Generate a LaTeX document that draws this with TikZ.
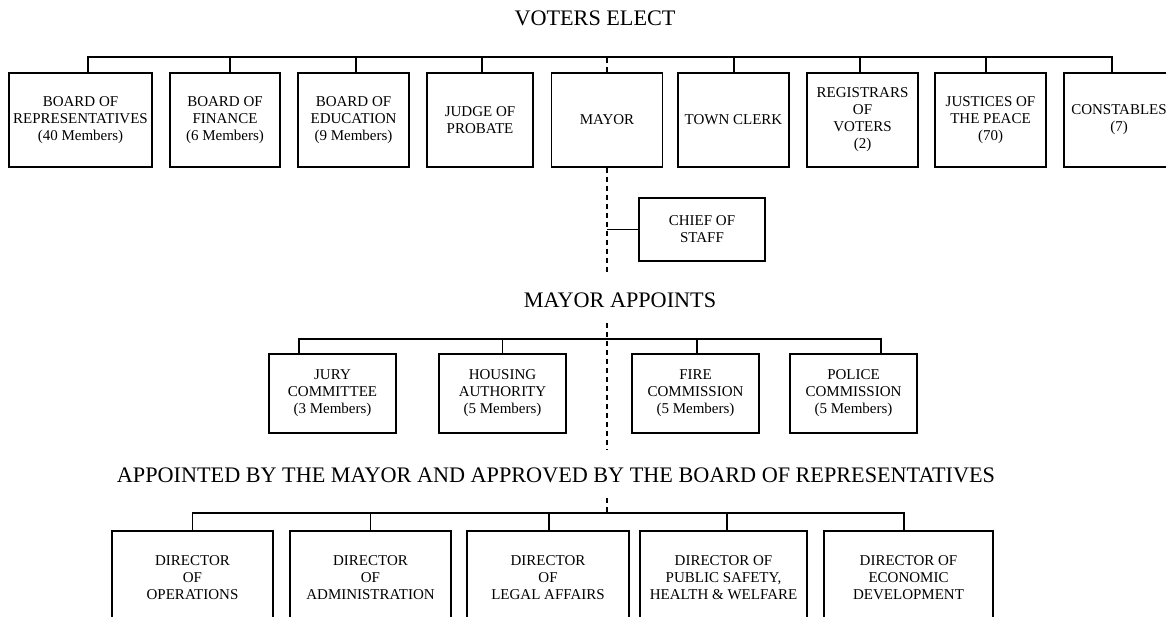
\documentclass[tikz,border=0pt]{standalone}
\usepackage{fontspec}
\setmainfont{Liberation Serif}

\tikzset{
    office/.style={draw, line width=1.2pt, inner sep=2pt, align=center,
        font=\fontsize{15}{17}\selectfont},
    electbox/.style={office, minimum width=#1, minimum height=94},
    electbox/.default=111,
    apptbox/.style={office, minimum width=127, minimum height=79},
    dirbox/.style={office, minimum width=#1, minimum height=94},
    dirbox/.default=161,
    heading/.style={font=\fontsize{22.2}{26}\selectfont},
    link/.style={line width=1.2pt},
    mayorline/.style={line width=1.2pt, dash pattern=on 5pt off 4pt}
}

\begin{document}
\begin{tikzpicture}[x=1pt, y=-1pt]
            \useasboundingbox (0,0) rectangle (1166,616);
            \node[heading] (voters) at (595,18) {VOTERS ELECT};
            \node[heading] (appoints) at (620,300) {MAYOR APPOINTS};
            \node[heading] (approved) at (556,475) {APPOINTED BY THE MAYOR AND APPROVED BY THE BOARD OF REPRESENTATIVES};

            \node[electbox=143] (rep) at (80.5,120) {BOARD OF\\REPRESENTATIVES\\(40 Members)};
            \node[electbox=110] (fin) at (225,120) {BOARD OF\\FINANCE\\(6 Members)};
            \node[electbox] (edu) at (353.5,120) {BOARD OF\\EDUCATION\\(9 Members)};
            \node[electbox=106] (jud) at (480,120) {JUDGE OF\\PROBATE};
            \node[electbox] (may) at (607,120) {MAYOR};
            \node[electbox] (clk) at (733.5,120) {TOWN CLERK};
            \node[electbox] (reg) at (862.5,120) {REGISTRARS\\OF\\VOTERS\\(2)};
            \node[electbox] (jus) at (990.5,120) {JUSTICES OF\\THE PEACE\\(70)};
            \node[electbox=110] (con) at (1119,120) {CONSTABLES\\(7)};

            \node[office, minimum width=126, minimum height=63] (chief) at (702,229.5) {CHIEF OF\\STAFF};

            \node[apptbox] (jury) at (332.5,393.5) {JURY\\COMMITTEE\\(3 Members)};
            \node[apptbox] (hous) at (502.5,393.5) {HOUSING\\AUTHORITY\\(5 Members)};
            \node[apptbox] (fire) at (695.5,393.5) {FIRE\\COMMISSION\\(5 Members)};
            \node[apptbox] (pol) at (853.5,393.5) {POLICE\\COMMISSION\\(5 Members)};

            \node[dirbox] (ops) at (192.5,578) {DIRECTOR\\OF\\OPERATIONS};
            \node[dirbox] (adm) at (370.5,578) {DIRECTOR\\OF\\ADMINISTRATION};
            \node[dirbox=162] (leg) at (548,578) {DIRECTOR\\OF\\LEGAL AFFAIRS};
            \node[dirbox=167] (saf) at (723.5,578) {DIRECTOR OF\\PUBLIC SAFETY,\\HEALTH \& WELFARE};
            \node[dirbox=169] (eco) at (908.5,578) {DIRECTOR OF\\ECONOMIC\\DEVELOPMENT};

            \coordinate (electbar) at (0,57);
            \coordinate (appbar) at (0,339);
            \coordinate (dirbar) at (0,513);
            \coordinate (mayend) at (607,273);
            \coordinate (appdash) at (607,323);
            \coordinate (append) at (607,450);
            \coordinate (dirdash) at (607,498);

            \draw[link] ([xshift=7.5]rep.north) |- ([xshift=-7]con.north |- electbar) -- ([xshift=-7]con.north);
            \foreach \n/\s in {fin/5, edu/2.5, jud/2, clk/0.5, reg/-2.5, jus/-4.5}
                \draw[link] ([xshift=\s]\n.north) -- ([xshift=\s]\n.north |- electbar);
            \draw[mayorline] (may.north) -- (may.north |- electbar);
            \draw[mayorline] (may.south) -- (mayend);
            \draw[link] (chief.west) -- (chief.west -| may.south);

            \draw[link] ([xshift=-33.5]jury.north) |- ([xshift=27.5]pol.north |- appbar) -- ([xshift=27.5]pol.north);
            \foreach \n/\s in {hous/0, fire/1.5}
                \draw[link] ([xshift=\s]\n.north) -- ([xshift=\s]\n.north |- appbar);
            \draw[mayorline] (appdash) -- (append);

            \draw[link] (ops.north) |- ([xshift=-4.5]eco.north |- dirbar) -- ([xshift=-4.5]eco.north);
            \foreach \n/\s in {adm/0, leg/1, saf/3.5}
                \draw[link] ([xshift=\s]\n.north) -- ([xshift=\s]\n.north |- dirbar);
            \draw[mayorline] (dirdash) -- (dirdash |- dirbar);
\end{tikzpicture}
\end{document}
